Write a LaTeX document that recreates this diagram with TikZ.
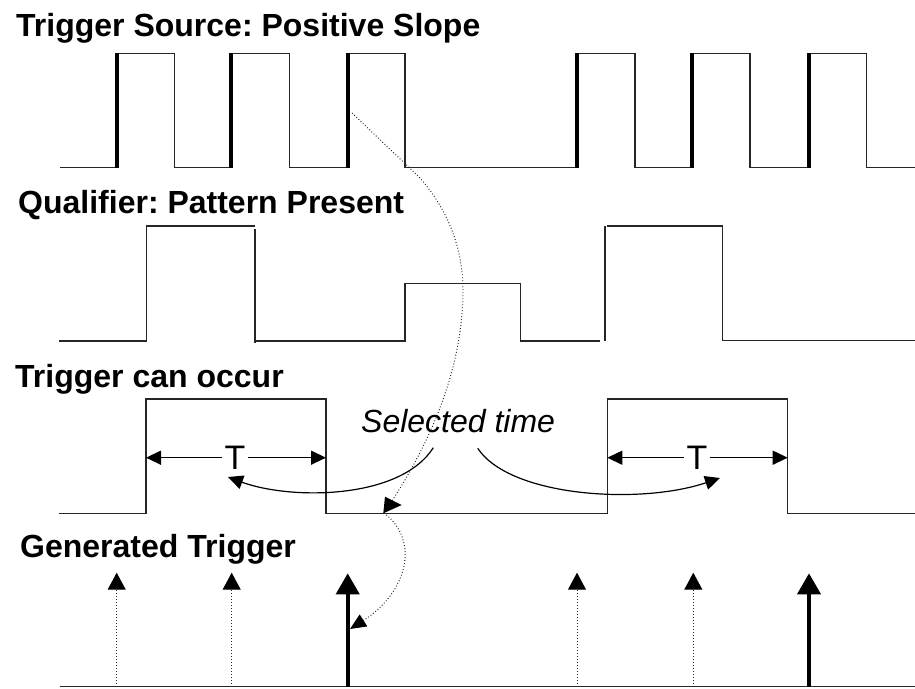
\documentclass[tikz,border=0pt]{standalone}
\usepackage{fontspec}
\setmainfont{Liberation Sans}
\usetikzlibrary{arrows.meta}
\frenchspacing
\begin{document}
\begin{tikzpicture}[x=1pt,y=-1pt,
  wave/.style={line width=1.3pt, line join=miter, draw=black!85},
  edgeline/.style={line width=4pt, draw=black},
  title/.style={anchor=base west, inner sep=0pt, font=\fontsize{32}{37}\selectfont\bfseries},
  tlabel/.style={inner xsep=2.5pt, inner ysep=0pt, font=\fontsize{34}{38}\selectfont},
  dimarrow/.style={line width=1.3pt, -{Triangle[length=15pt,width=14pt]}},
  curvearrow/.style={line width=1.2pt, -{Triangle[length=15pt,width=14pt]}},
  dots/.style={line width=1pt, dash pattern=on 0.9pt off 2.1pt, draw=black!85},
  smalltrig/.style={dots, -{Triangle[length=17pt,width=18pt,color=black]}},
  bigtrig/.style={line width=4pt, -{Triangle[length=21pt,width=23pt]}}
]
\useasboundingbox (0,0) rectangle (915,688);

% titles
\node[title] (t1) at (16,36.7) {Trigger Source: Positive Slope};
\node[title] (t2) at (18,213) {Qualifier: Pattern Present};
\node[title] (t3) at (15,387) {Trigger can occur};
\node[title] (t4) at (20,557) {Generated Trigger};

% trigger source waveform
\draw[wave] (60,167.7) -- (116.7,167.7) -- (116.7,53.3) -- (174.3,53.3) -- (174.3,167.7)
  -- (231,167.7) -- (231,53.3) -- (289.3,53.3) -- (289.3,167.7)
  -- (347.7,167.7) -- (347.7,53.3) -- (405,53.3) -- (405,167.7)
  -- (577,167.7) -- (577,53.3) -- (635,53.3) -- (635,167.7)
  -- (691.7,167.7) -- (691.7,53.3) -- (750,53.3) -- (750,167.7)
  -- (809,167.7) -- (809,53.3) -- (866.7,53.3) -- (866.7,167.7) -- (915,167.7);
\foreach \x in {116.7,231,347.7,577,691.7,809}
  \draw[edgeline] (\x,168.3) -- (\x,52.7);

% qualifier waveform
\draw[wave] (59.3,341) -- (146.7,341) -- (146.7,226) -- (255,226);
\draw[wave] (255,229) -- (255,343);
\draw[wave] (255,341) -- (405,341) -- (405,283.7) -- (520.7,283.7) -- (520.7,341) -- (600,341);
\draw[wave] (605,341) -- (605,226);
\draw[wave] (607,226) -- (722.7,226) -- (722.7,340.3) -- (915,340.3);

% trigger can occur waveform
\draw[wave] (59.3,513.3) -- (146,513.3) -- (146,399) -- (326,399) -- (326,513.3)
  -- (607.3,513.3) -- (607.3,399) -- (787.7,399) -- (787.7,513.3) -- (915,513.3);

% T dimension arrows
\coordinate (a1l) at (146,457.7);
\coordinate (a1r) at (326,457.7);
\coordinate (a2l) at (607.3,457.7);
\coordinate (a2r) at (787.7,457.7);
\node[tlabel] (T1) at (235,457.7) {T};
\node[tlabel] (T2) at (697,457.7) {T};
\draw[dimarrow] (T1.west) -- (a1l);
\draw[dimarrow] (T1.east) -- (a1r);
\draw[dimarrow] (T2.west) -- (a2l);
\draw[dimarrow] (T2.east) -- (a2r);

% selected time
\node[anchor=base west, inner sep=0pt, font=\fontsize{32}{37}\selectfont\itshape] (sel) at (361,432) {Selected time};
\coordinate (s1) at (433.3,447.7);
\coordinate (s2) at (477.7,448.3);
\coordinate (e1) at (228,477);
\coordinate (e2) at (720,478);
\draw[curvearrow] (s1) .. controls (400,500) and (290,500) .. (e1);
\draw[curvearrow] (s2) .. controls (510,497) and (640,505) .. (e2);

% dotted causal path
\coordinate (d0) at (352,113);
\coordinate (d1) at (418,176);
\coordinate (d2) at (463,290);
\coordinate (d3) at (384,513);
\coordinate (d4) at (350,629);
\draw[dots] (d0) -- (d1) .. controls (445,205) and (463,245) .. (d2)
  .. controls (463,380) and (420,460) .. (d3);
\fill (385,496.7) -- (401.7,505) -- (383.3,513.3) -- cycle;
\draw[dots, -{Triangle[length=16pt,width=14pt,color=black]}] (d3) .. controls (420,540) and (408,592) .. (d4);

% generated trigger
\draw[wave] (60,686.7) -- (915,686.7);
\foreach \x/\n in {116.7/g1,231.7/g2,577/g4,693.3/g5}{
  \coordinate (\n b) at (\x,686.7);
  \coordinate (\n t) at (\x,572.7);
  \draw[smalltrig] (\n b) -- (\n t);
}
\foreach \x/\n in {347.7/g3,809/g6}{
  \coordinate (\n b) at (\x,686.7);
  \coordinate (\n t) at (\x,573.3);
  \draw[bigtrig] (\n b) -- (\n t);
}
\end{tikzpicture}
\end{document}
